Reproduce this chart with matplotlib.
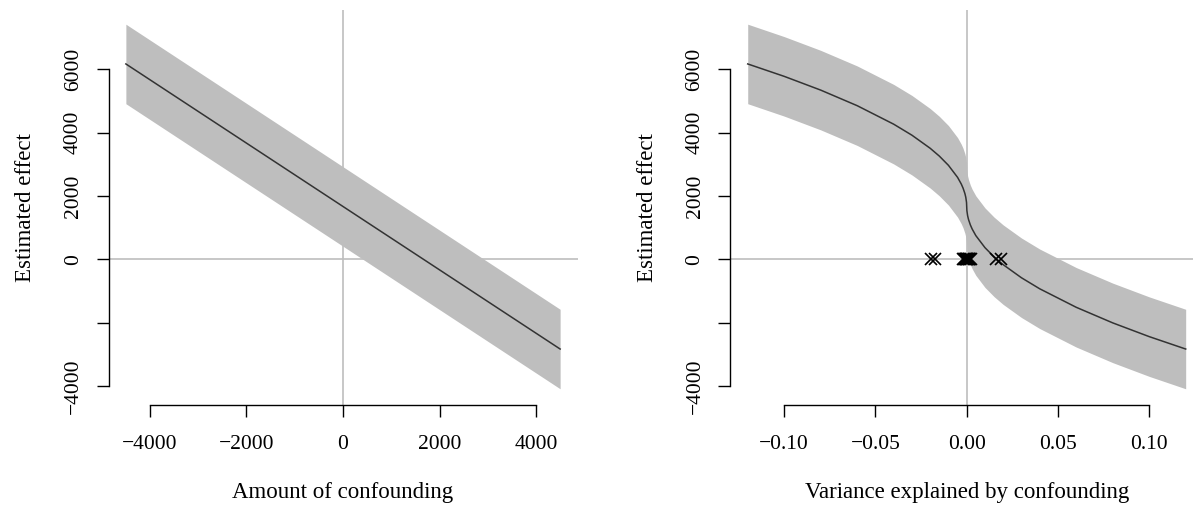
import matplotlib
matplotlib.use("Agg")
import matplotlib.pyplot as plt

plt.rcParams['font.family'] = ['Liberation Serif', 'DejaVu Serif']

# left panel: amount of confounding
conf = [-4500, 4500]
est_left = [6167, -2833]
upper_left = [7422, -1578]
lower_left = [4912, -4088]

# right panel: variance explained by confounding
r2 = [-0.12, -0.10, -0.08, -0.06, -0.04, -0.03, -0.02, -0.015, -0.01, -0.005, -0.003,
      -0.002, -0.001, -0.0005, -0.0001, 0.0, 0.0001, 0.0005, 0.001, 0.002, 0.003,
      0.005, 0.01, 0.015, 0.02, 0.03, 0.04, 0.06, 0.08, 0.10, 0.12]
est_right = [6167, 5775, 5341, 4849, 4265, 3917, 3504, 3258, 2966, 2586, 2379,
             2248, 2078, 1957, 1797, 1667, 1537, 1377, 1256, 1086, 955,
             748, 368, 76, -170, -583, -931, -1515, -2007, -2441, -2833]
upper_right = [7422, 7030, 6596, 6104, 5520, 5172, 4759, 4513, 4221, 3841, 3634,
               3503, 3333, 3212, 3052, 2922, 2792, 2632, 2511, 2341, 2210,
               2003, 1623, 1331, 1085, 672, 324, -260, -752, -1186, -1578]
lower_right = [4912, 4520, 4086, 3594, 3010, 2662, 2249, 2003, 1711, 1331, 1124,
               993, 823, 702, 542, 412, 282, 122, 1, -169, -300,
               -507, -887, -1179, -1425, -1838, -2186, -2770, -3262, -3696, -4088]
covariates = [-0.0195, -0.0172, -0.0020, -0.0015, -0.0010, -0.0006, -0.0003, 0.0,
              0.0003, 0.0006, 0.0010, 0.0014, 0.0019, 0.0024, 0.0162, 0.0188]

yticks = [-4000, -2000, 0, 2000, 4000, 6000]
yticklabels = ['\u22124000', '', '0', '2000', '4000', '6000']
xticks_left = [-4000, -2000, 0, 2000, 4000]
xticklabels_left = ['\u22124000', '\u22122000', '0', '2000', '4000']
xticks_right = [-0.10, -0.05, 0.0, 0.05, 0.10]
xticklabels_right = ['\u22120.10', '\u22120.05', '0.00', '0.05', '0.10']

W, H = 1193, 508
fig = plt.figure(figsize=(W / 100, H / 100), dpi=100)
ylim = (-4600, 7870)
top, bottom = 10, 405


def make_axes(x0, x1):
    ax = fig.add_axes([x0 / W, (H - bottom) / H, (x1 - x0) / W, (bottom - top) / H])
    ax.set_ylim(*ylim)
    for s in ['top', 'right']:
        ax.spines[s].set_visible(False)
    for s in ['left', 'bottom']:
        ax.spines[s].set_linewidth(1.0)
    ax.tick_params(length=8.5, width=1.0, labelsize=15.5)
    ax.tick_params(axis='x', pad=13)
    ax.tick_params(axis='y', pad=10)
    ax.set_yticks(yticks)
    ax.set_yticklabels(yticklabels, rotation=90, va='center')
    ax.spines['left'].set_bounds(-4000, 6000)
    ax.set_ylabel('Estimated effect', fontsize=16.5, labelpad=20)
    ax.axhline(0, color='#bebebe', lw=1.2, zorder=1)
    ax.axvline(0, color='#bebebe', lw=1.2, zorder=1)
    return ax


ax1 = make_axes(108.5, 577.5)
ax1.set_xlim(-4860, 4860)
ax1.fill_between(conf, lower_left, upper_left, color='#bebebe', lw=0, zorder=2)
ax1.plot(conf, est_left, color='#333333', lw=1.1, zorder=3)
ax1.set_xticks(xticks_left)
ax1.set_xticklabels(xticklabels_left)
ax1.spines['bottom'].set_bounds(-4000, 4000)
ax1.set_xlabel('Amount of confounding', fontsize=16.5, labelpad=20)

ax2 = make_axes(730.2, 1203.2)
ax2.set_xlim(-0.1296, 0.1296)
ax2.fill_between(r2, lower_right, upper_right, color='#bebebe', lw=0, zorder=2)
ax2.plot(r2, est_right, color='#333333', lw=1.1, zorder=3)
ax2.plot(covariates, [0] * len(covariates), 'x', color='black', ms=8, mew=1.2, zorder=4)
ax2.set_xticks(xticks_right)
ax2.set_xticklabels(xticklabels_right)
ax2.spines['bottom'].set_bounds(-0.10, 0.10)
ax2.set_xlabel('Variance explained by confounding', fontsize=16.5, labelpad=20)

fig.savefig('out.png', dpi=100)
